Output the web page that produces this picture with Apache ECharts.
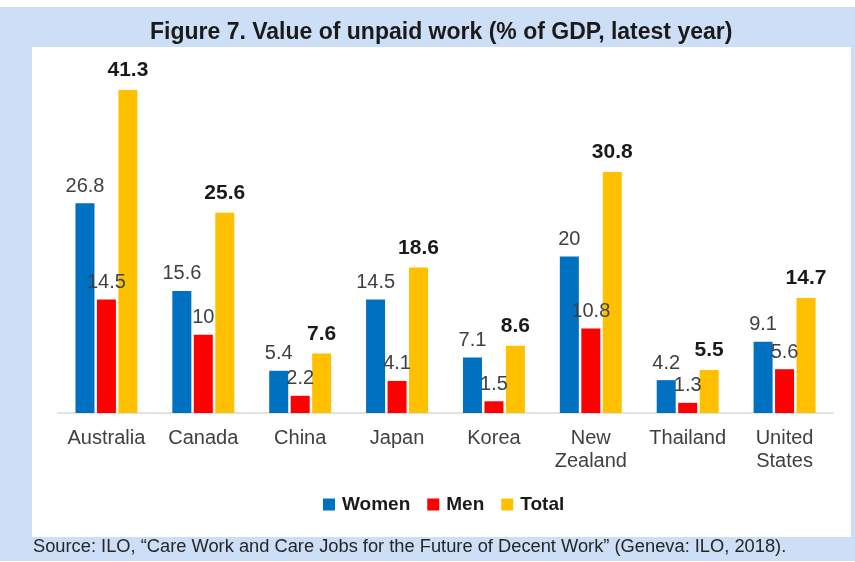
<!DOCTYPE html>
<html>
<head>
<meta charset="utf-8">
<script src="https://cdn.jsdelivr.net/npm/echarts@6/dist/echarts.min.js"></script>
<style>html,body{margin:0;padding:0;background:#fff;}#c{width:855px;height:562px;}</style>
</head>
<body>
<div id="c"></div>
<script>
const categories = ['Australia', 'Canada', 'China', 'Japan', 'Korea', 'New\nZealand', 'Thailand', 'United\nStates'];
const women = [26.8, 15.6, 5.4, 14.5, 7.1, 20, 4.2, 9.1];
const men = [14.5, 10, 2.2, 4.1, 1.5, 10.8, 1.3, 5.6];
const total = [41.3, 25.6, 7.6, 18.6, 8.6, 30.8, 5.5, 14.7];
const seriesNames = ['Women', 'Men', 'Total'];
const titleText = 'Figure 7. Value of unpaid work (% of GDP, latest year)';
const sourceText = 'Source: ILO, \u201cCare Work and Care Jobs for the Future of Decent Work\u201d (Geneva: ILO, 2018).';

const FONT = '"Liberation Sans", Arial, sans-serif';
const chart = echarts.init(document.getElementById('c'), null, {renderer: 'canvas'});

function mkSeries(name, data, color, bold) {
  return {
    name: name,
    type: 'bar',
    data: data,
    barWidth: 19,
    barGap: '13%',
    itemStyle: {color: color},
    label: {
      show: true,
      position: 'top',
      distance: bold ? 9 : 7,
      fontFamily: FONT,
      fontSize: bold ? 21 : 20,
      fontWeight: bold ? 'bold' : 'normal',
      color: bold ? '#1a1a1a' : '#404040'
    }
  };
}

chart.setOption({
  backgroundColor: '#ffffff',
  animation: false,
  graphic: [
    {type: 'rect', z: -10, shape: {x: 0, y: 7, width: 855, height: 554}, style: {fill: '#cddff7'}},
    {type: 'rect', z: -9, shape: {x: 32, y: 47, width: 819, height: 490}, style: {fill: '#ffffff'}}
  ],
  title: [
    {text: titleText, left: 150, top: 21, padding: 0,
     textStyle: {fontFamily: FONT, fontSize: 23, fontWeight: 'bold', color: '#1a1a1a'}},
    {text: sourceText, left: 33, top: 538, padding: 0,
     textStyle: {fontFamily: FONT, fontSize: 18.3, fontWeight: 'normal', color: '#262626'}}
  ],
  legend: {
    data: seriesNames,
    left: 323,
    top: 495,
    padding: 0,
    icon: 'rect',
    itemWidth: 12,
    itemHeight: 12,
    itemGap: 17,
    textStyle: {fontFamily: FONT, fontSize: 19, fontWeight: 'bold', color: '#1a1a1a', padding: [0, 0, 0, 2]}
  },
  grid: {left: 58, right: 22, top: 61, bottom: 149, containLabel: false},
  xAxis: {
    type: 'category',
    data: categories,
    axisLine: {lineStyle: {color: '#d9d9d9', width: 1.5}},
    axisTick: {show: false},
    axisLabel: {fontFamily: FONT, fontSize: 20, color: '#404040', margin: 14, lineHeight: 23, interval: 0}
  },
  yAxis: {
    type: 'value',
    min: 0,
    max: 45,
    show: false,
    splitLine: {show: false}
  },
  series: [
    mkSeries(seriesNames[0], women, '#0070c0', false),
    mkSeries(seriesNames[1], men, '#ff0000', false),
    mkSeries(seriesNames[2], total, '#ffc000', true)
  ]
});
</script>
</body>
</html>
